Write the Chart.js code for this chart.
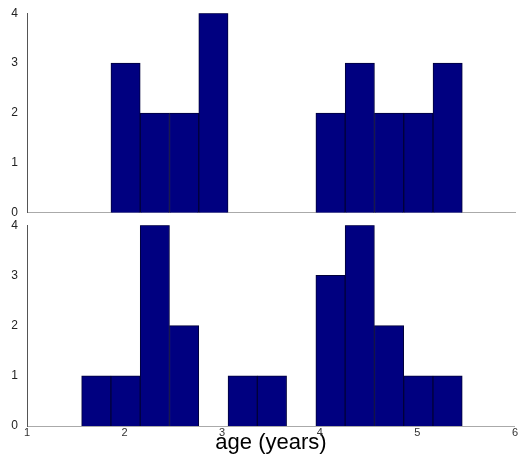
<!DOCTYPE html>
<html>
<head>
<meta charset="utf-8">
<script src="https://cdn.jsdelivr.net/npm/chart.js@4"></script>
<style>
  html, body { margin: 0; padding: 0; background: #fff; overflow: hidden; }
  .wrap { position: absolute; left: 0; }
</style>
</head>
<body>
<div class="wrap" style="top:-3px"><canvas id="topChart" width="518" height="232"></canvas></div>
<div class="wrap" style="top:209px"><canvas id="bottomChart" width="518" height="255"></canvas></div>
<script>
// histogram bins (left edges, years) and counts per panel
const binStarts = [1.56, 1.86, 2.16, 2.46, 2.76, 3.06, 3.36, 3.66, 3.96, 4.26, 4.56, 4.86, 5.16];
const binWidth = 0.3;
const topCounts = [0, 3, 2, 2, 4, 0, 0, 0, 2, 3, 2, 2, 3];
const bottomCounts = [1, 1, 4, 2, 0, 1, 1, 0, 3, 4, 2, 1, 1];
const xTicks = [1, 2, 3, 4, 5, 6];
const yTicks = [0, 1, 2, 3, 4];

const FONT = "'Liberation Sans', Arial, sans-serif";

function toPoints(counts) {
    return binStarts
        .map((s, i) => ({ x: s + binWidth / 2, y: counts[i] }))
        .filter(p => p.y > 0);
}

function makeChart(id, counts, isBottom) {
    const ctx = document.getElementById(id).getContext("2d");
    return new Chart(ctx, {
        type: "bar",
        data: {
            datasets: [{
                data: toPoints(counts),
                backgroundColor: "#000080",
                borderColor: "#00003a",
                borderWidth: 1,
                borderSkipped: "start",
                barPercentage: 1,
                categoryPercentage: 1
            }]
        },
        options: {
            responsive: false,
            animation: false,
            layout: { padding: { top: 0, right: 3, left: 0, bottom: 0 } },
            plugins: { legend: { display: false }, tooltip: { enabled: false } },
            scales: {
                x: {
                    type: "linear",
                    min: 1,
                    max: 6,
                    offset: false,
                    afterBuildTicks: s => { s.ticks = xTicks.map(v => ({ value: v })); },
                    afterFit: s => { s.height = isBottom ? 38 : 4; },
                    grid: { display: false, drawTicks: false, offset: false },
                    border: { display: true, color: "#aaa", width: 1 },
                    ticks: {
                        display: isBottom,
                        padding: 0,
                        color: "#333",
                        font: { family: FONT, size: 11 }
                    },
                    title: {
                        display: isBottom,
                        text: "age (years)",
                        color: "#000",
                        font: { family: FONT, size: 22 },
                        padding: { top: 0, bottom: 8 }
                    }
                },
                y: {
                    min: 0,
                    max: 4,
                    afterBuildTicks: s => { s.ticks = yTicks.map(v => ({ value: v })); },
                    afterFit: s => { s.width = 27; },
                    grid: { display: false, drawTicks: false },
                    border: { display: true, color: "#555", width: 1 },
                    ticks: {
                        padding: 9,
                        color: "#222",
                        font: { family: FONT, size: 12 }
                    }
                }
            }
        }
    });
}

makeChart("topChart", topCounts, false);
makeChart("bottomChart", bottomCounts, true);
</script>
</body>
</html>
